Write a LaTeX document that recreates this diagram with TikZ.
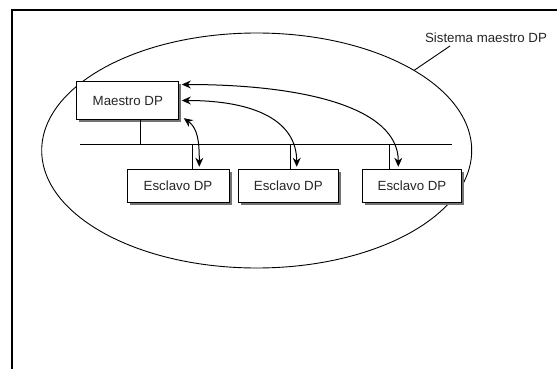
\documentclass[tikz,border=0pt]{standalone}
\usepackage{fontspec}
\setmainfont{Liberation Sans}
\usetikzlibrary{arrows.meta,shapes.geometric,shadows}
\begin{document}
\begin{tikzpicture}[x=1pt,y=-1pt,
  every node/.style={font=\fontsize{13.3}{16}\selectfont, text=black!85},
  box/.style={draw, line width=1pt, fill=white, inner sep=0pt,
    drop shadow={shadow xshift=2.5pt, shadow yshift=-2.5pt, fill=black!55, opacity=1}},
  slavebox/.style={box, minimum width=100pt, minimum height=33.5pt},
  thin line/.style={line width=0.9pt},
  arr/.style={line width=1pt, {Stealth[length=9pt,width=8pt,inset=3pt]}-{Stealth[length=9pt,width=8pt,inset=3pt]}}
]
\fill[white] (0,0) rectangle (557,369);
\useasboundingbox (0,0) rectangle (557,369);
% frame
\draw[line width=2.8pt] (12,369) -- (12,10) -- (557,10);
% system ellipse
\node[draw, ellipse, thin line, minimum width=430pt, minimum height=235pt, inner sep=0pt] (E) at (256.7,150.5) {};
% label
\node[inner sep=0pt] (L) at (486,38) {Sistema maestro DP};
\coordinate (Lt) at (450,46);
\draw[thin line] (Lt) -- (E.27.4);
% bus
\coordinate (B1) at (80,144.3);
\coordinate (B2) at (451.7,144.3);
\draw[thin line] (B1) -- (B2);
% nodes
\node[box, minimum width=102pt, minimum height=37.6pt] (M) at (127.8,100.5) {Maestro DP};
\node[slavebox, minimum width=102pt] (S1) at (178,186) {Esclavo DP};
\node[slavebox] (S2) at (288.3,186) {Esclavo DP};
\node[slavebox, minimum width=99pt] (S3) at (412,186) {Esclavo DP};
% drops to bus
\draw[thin line] ([xshift=12.2pt]M.south) -- ([xshift=12.2pt]M.south |- B1);
\draw[thin line] ([xshift=14.3pt]S1.north) -- ([xshift=14.3pt]S1.north |- B1);
\draw[thin line] ([xshift=1.7pt]S2.north) -- ([xshift=1.7pt]S2.north |- B1);
\draw[thin line] ([xshift=-23pt]S3.north) -- ([xshift=-23pt]S3.north |- B1);
% arrows
\draw[arr] ([xshift=2.5pt,yshift=-3.3pt]M.north east) .. controls +(120,0) and +(0,-60) .. ([xshift=-13.7pt,yshift=2pt]S3.north);
\draw[arr] ([xshift=2.5pt]M.east) .. controls +(75,0) and +(0,-45) .. ([xshift=8.4pt,yshift=2pt]S2.north);
\draw[arr] ([xshift=4.5pt,yshift=1.6pt]M.south east) .. controls +(14,10) and +(0,-25) .. ([xshift=21.3pt,yshift=2pt]S1.north);
\end{tikzpicture}
\end{document}
